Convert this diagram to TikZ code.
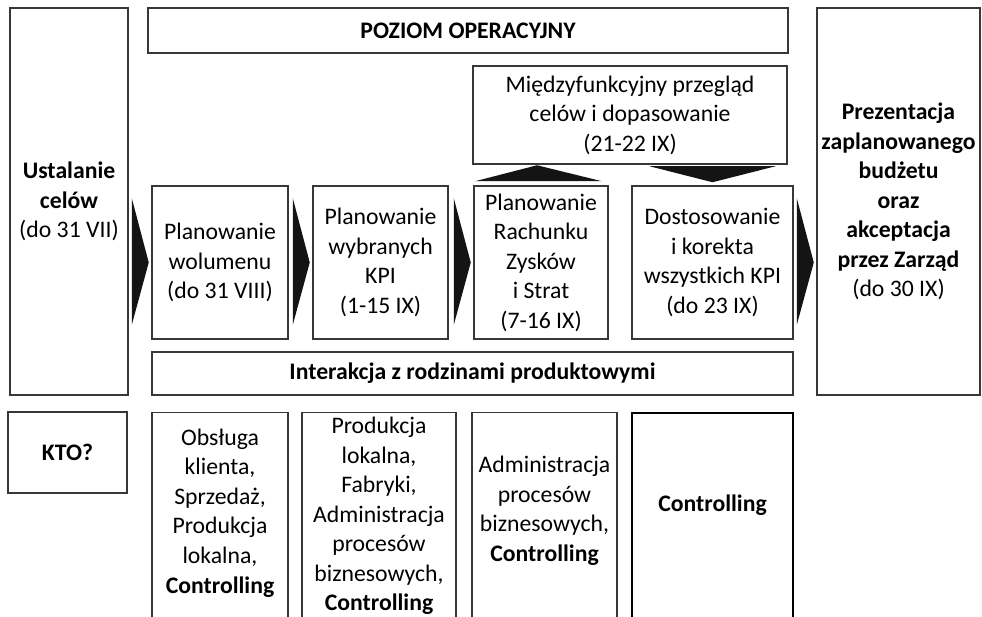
\documentclass[tikz,border=0pt]{standalone}
\usepackage{fontspec}
\setmainfont{Carlito}
\usetikzlibrary{calc}

\tikzset{
	box/.style={draw=black!78, line width=0.85pt, align=center, inner sep=0pt,
		font=\fontsize{13.5}{16.8}\selectfont},
	boxbold/.style={box, font=\fontsize{13.5}{16.8}\selectfont\bfseries},
	txt/.style={align=center, inner sep=0pt, font=\fontsize{13.5}{16.8}\selectfont},
	chev/.style={fill=black!92, draw=none},
}

\begin{document}
\begin{tikzpicture}[x=0.02cm, y=-0.02cm]
		% One picture pixel
		\def\pxu{0.02cm}
		
		% Fix the frame of the picture
		\useasboundingbox (0,0) rectangle (982,617);
		\clip (0,0) rectangle (982,617);
		
		% Draw the side boxes
		\node[boxbold, minimum width=118*\pxu, minimum height=387*\pxu] (cele) at (69,201.5)
		{Ustalanie\\celów\\{\mdseries (do 31 VII)}};
		\node[boxbold, minimum width=163*\pxu, minimum height=387*\pxu] (prez) at (898.5,201.5)
		{Prezentacja\\zaplanowanego\\budżetu\\oraz\\akceptacja\\przez Zarząd\\{\mdseries (do 30 IX)}};
		
		% Draw the header and the bar below
		\node[boxbold, minimum width=640*\pxu, minimum height=45*\pxu] (poziom) at (468,30.5) {POZIOM OPERACYJNY};
		\node[boxbold, minimum width=641*\pxu, minimum height=43*\pxu] (inter) at (472.5,373.5) {Interakcja z rodzinami produktowymi};
		
		% Draw the review box
		\node[box, minimum width=314*\pxu, minimum height=98*\pxu] (przeg) at (630,115)
		{Międzyfunkcyjny przegląd\\celów i dopasowanie\\(21-22 IX)};
		
		% Draw the planning steps
		\node[box, minimum width=136*\pxu, minimum height=153*\pxu] (wol) at (220,262.5)
		{Planowanie\\wolumenu\\(do 31 VIII)};
		\node[box, minimum width=135*\pxu, minimum height=153*\pxu] (kpi) at (380.5,262.5)
		{Planowanie\\wybranych\\KPI\\(1-15 IX)};
		\node[box, minimum width=134*\pxu, minimum height=153*\pxu] (rzis) at (541,262.5)
		{Planowanie\\Rachunku\\Zysków\\i Strat\\(7-16 IX)};
		\node[box, minimum width=161*\pxu, minimum height=153*\pxu] (kor) at (712.5,262.5)
		{Dostosowanie\\i korekta\\wszystkich KPI\\(do 23 IX)};
		
		% Draw the black arrows between the steps
		\foreach \a/\b in {cele/wol, wol/kpi, kpi/rzis, kor/prez} {
				\path let \p1=(\b.west), \p2=(wol.center) in coordinate (m) at (\x1,\y2);
				\fill[chev] ($(m)+(-19.5,-64.5)$) -- ($(m)+(-2.5,0)$) -- ($(m)+(-19.5,62.5)$) -- cycle;
			}
		% Up to the review and back down
		\fill[chev] ($(rzis.north)+(-66,-4)$) -- ($(rzis.north)+(-4,-20)$) -- ($(rzis.north)+(61,-4)$) -- cycle;
		\fill[chev] ($(kor.north)+(-63,-19)$) -- ($(kor.north)+(0,-3)$) -- ($(kor.north)+(63,-19)$) -- cycle;
		
		% Draw the row of who does it
		\node[boxbold, minimum width=119*\pxu, minimum height=81*\pxu] (kto) at (67.5,452.5) {KTO?};
		\node[box, minimum width=136*\pxu, minimum height=220*\pxu, anchor=north] (k1) at (220,412) {};
		\node[box, minimum width=154*\pxu, minimum height=220*\pxu, anchor=north] (k2) at (379,412) {};
		\node[box, minimum width=145*\pxu, minimum height=220*\pxu, anchor=north] (k3) at (544.5,412) {};
		\node[box, draw=black, line width=1.2pt, minimum width=161*\pxu, minimum height=220*\pxu, anchor=north] (k4) at (712.5,412) {};
		
		\node[txt] (k1t) at ($(k1.north)+(0,101)$)
		{Obsługa\\klienta,\\Sprzedaż,\\Produkcja\\lokalna,\\\textbf{Controlling}};
		\node[txt] (k2t) at ($(k2.north)+(0,104)$)
		{Produkcja\\lokalna,\\Fabryki,\\Administracja\\procesów\\biznesowych,\\\textbf{Controlling}};
		\node[txt] (k3t) at ($(k3.north)+(0,99)$)
		{Administracja\\procesów\\biznesowych,\\\textbf{Controlling}};
		\node[txt, font=\fontsize{13.5}{16.8}\selectfont\bfseries] (k4t) at ($(k4.north)+(0,93)$) {Controlling};
		
	\end{tikzpicture}
\end{document}
